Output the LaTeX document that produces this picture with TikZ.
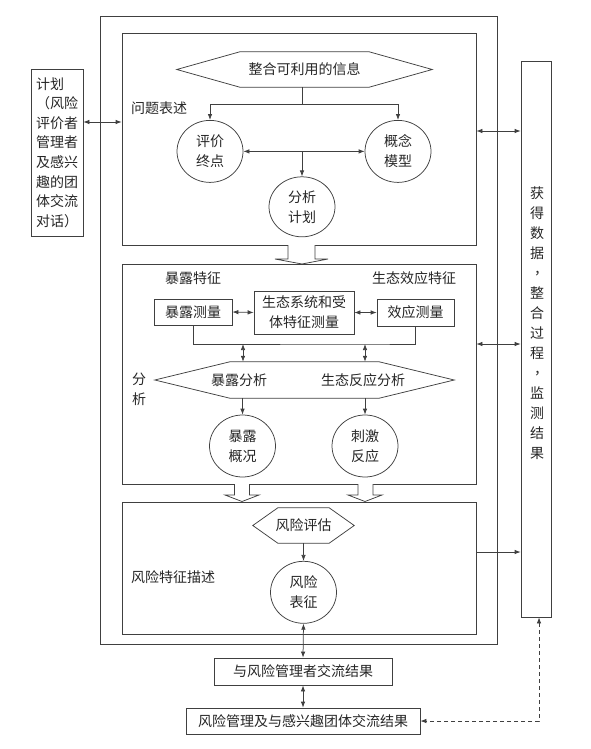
\documentclass[tikz,border=0pt]{standalone}
\usepackage{fontspec}
\setmainfont{Noto Sans CJK SC}
\usetikzlibrary{arrows.meta,calc,shapes.geometric}
\begin{document}
\begin{tikzpicture}[x=1pt,y=-1pt,
  every node/.style={font=\fontsize{14pt}{20pt}\selectfont, text=black!85},
  ln/.style={draw=black!75, line width=0.75pt},
  box/.style={ln, rectangle, inner sep=0pt},
  circ/.style={ln, ellipse, inner sep=0pt, minimum width=66pt, minimum height=62pt, align=center},
  hexnode/.style={inner sep=0pt},
  lbl/.style={inner sep=0pt, align=center},
  arr/.style={ln, -{Latex[length=6pt,width=4.5pt]}},
  darr/.style={ln, {Latex[length=6pt,width=4.5pt]}-{Latex[length=6pt,width=4.5pt]}},
]
\useasboundingbox (0,0) rectangle (591,749);

% panels
\node[box, minimum width=397pt, minimum height=628pt] (outer) at (298.5,330) {};
\node[box, minimum width=354pt, minimum height=212pt] (p1) at (299,139) {};
\node[box, minimum width=354pt, minimum height=220pt] (p2) at (299,374) {};
\node[box, minimum width=354pt, minimum height=132pt] (p3) at (299,568) {};

% left box
\node[box, minimum width=52pt, minimum height=167pt, align=left,
      font=\fontsize{14pt}{19.6pt}\selectfont] (plan) at (57,152.5)
  {计划\\（风险\\评价者\\管理者\\及感兴\\趣的团\\体交流\\对话）};

% right box
\node[box, minimum width=30pt, minimum height=556pt] (data) at (536,339) {};
\node[lbl] (datatext) at (537,323)
  {获\\得\\数\\据\\\hspace*{8pt}\raisebox{4pt}{，}\\整\\合\\过\\程\\\hspace*{8pt}\raisebox{4pt}{，}\\监\\测\\结\\果};

% ---- problem formulation
\node[lbl, anchor=west] (pf) at (131,108) {问题表述};
\node[hexnode, minimum width=255pt, minimum height=35pt] (info) at (304.5,69.5) {整合可利用的信息};
\draw[ln] (info.west) -- ([xshift=63pt]info.north west) -- ([xshift=-63pt]info.north east)
  -- (info.east) -- ([xshift=-63pt]info.south east) -- ([xshift=63pt]info.south west) -- cycle;
\node[circ] (ep) at (210,151.4) {评价\\终点};
\node[circ] (cm) at (398,151.4) {概念\\模型};
\node[circ, minimum height=60pt] (ap) at (302,206.8) {分析\\计划};
\draw[arr] ([xshift=-2.5pt]info.south) -- ++(0,17) -| (ep.north);
\draw[arr] ([xshift=-2.5pt]info.south) -- ++(0,17) -| (cm.north);
\draw[darr] (ep.east) -- (cm.west);
\draw[arr] (ap.north |- ep.east) -- (ap.north);

\draw[darr] (plan.east |- 0,122) -- (p1.west |- 0,122);
\draw[darr] (p1.east |- 0,131) -- (data.west |- 0,131);

% ---- analysis
\node[lbl] (ec) at (193,278) {暴露特征};
\node[lbl] (efc) at (414,278) {生态效应特征};
\node[box, minimum width=78pt, minimum height=26pt] (em) at (193,312) {暴露测量};
\node[box, minimum width=100pt, minimum height=43pt, align=center] (eco) at (304,312.5) {生态系统和受\\体特征测量};
\node[box, minimum width=77pt, minimum height=27pt] (efm) at (415.5,312.5) {效应测量};
\draw[darr] (em.east) -- (eco.west);
\draw[darr] (eco.east) -- (efm.west);

\coordinate (busL) at (243,344);
\coordinate (busR) at (365,344);
\draw[ln] (em.south) |- (busR) -| (efm.south);

\node[hexnode, minimum width=299pt, minimum height=36pt] (ana) at (304.5,380) {};
\draw[ln] (ana.west) -- ([xshift=75pt]ana.north west) -- ([xshift=-75pt]ana.north east)
  -- (ana.east) -- ([xshift=-75pt]ana.south east) -- ([xshift=75pt]ana.south west) -- cycle;
\node[lbl] (ea) at (239,380) {暴露分析};
\node[lbl] (era) at (363,380) {生态反应分析};
\node[lbl] (fx) at (139,389) {分\\析};

\draw[darr] (busL) -- (busL |- ana.north);
\draw[darr] (busR) -- (busR |- ana.north);

\node[circ] (ep2) at (242.5,446) {暴露\\概况};
\node[circ] (sr) at (365,446) {刺激\\反应};
\draw[arr] (ep2.north |- ana.south) -- (ep2.north);
\draw[arr] (sr.north |- ana.south) -- (sr.north);

\draw[darr] (p2.east |- busL) -- (data.west |- busL);

% hollow arrows
\draw[ln, fill=white] (288,245) -- (288,259) -- (275,259) -- (302,264) -- (328,259) -- (315,259) -- (315,245);
\draw[ln, fill=white] (234.5,484) -- (234.5,495) -- (225,495) -- (242,501.5) -- (259,495) -- (249.5,495) -- (249.5,484);
\draw[ln, fill=white] (358,484) -- (358,495) -- (348,495) -- (365,501.5) -- (382,495) -- (373,495) -- (373,484);

% ---- risk characterization
\node[hexnode, minimum width=101pt, minimum height=35pt] (ra) at (303.5,525.5) {风险评估};
\draw[ln] (ra.west) -- ([xshift=25pt]ra.north west) -- ([xshift=-25pt]ra.north east)
  -- (ra.east) -- ([xshift=-25pt]ra.south east) -- ([xshift=25pt]ra.south west) -- cycle;
\node[circ] (rc) at (303.5,592.3) {风险\\表征};
\draw[arr] (ra.south) -- (rc.north);
\node[lbl, anchor=west] (rcd) at (131,577) {风险特征描述};
\draw[arr] (p3.east |- 0,552) -- (data.west |- 0,552);

% ---- bottom
\node[box, minimum width=178pt, minimum height=27pt] (b1) at (303,671.5) {与风险管理者交流结果};
\node[box, minimum width=234pt, minimum height=26pt] (b2) at (303,721) {风险管理及与感兴趣团体交流结果};
\draw[darr] (rc.south) -- (b1.north);
\draw[darr] (b1.south) -- (b2.north);
\draw[darr, dash pattern=on 4pt off 3pt] ([xshift=3pt]data.south) |- (b2.east);
\end{tikzpicture}
\end{document}
